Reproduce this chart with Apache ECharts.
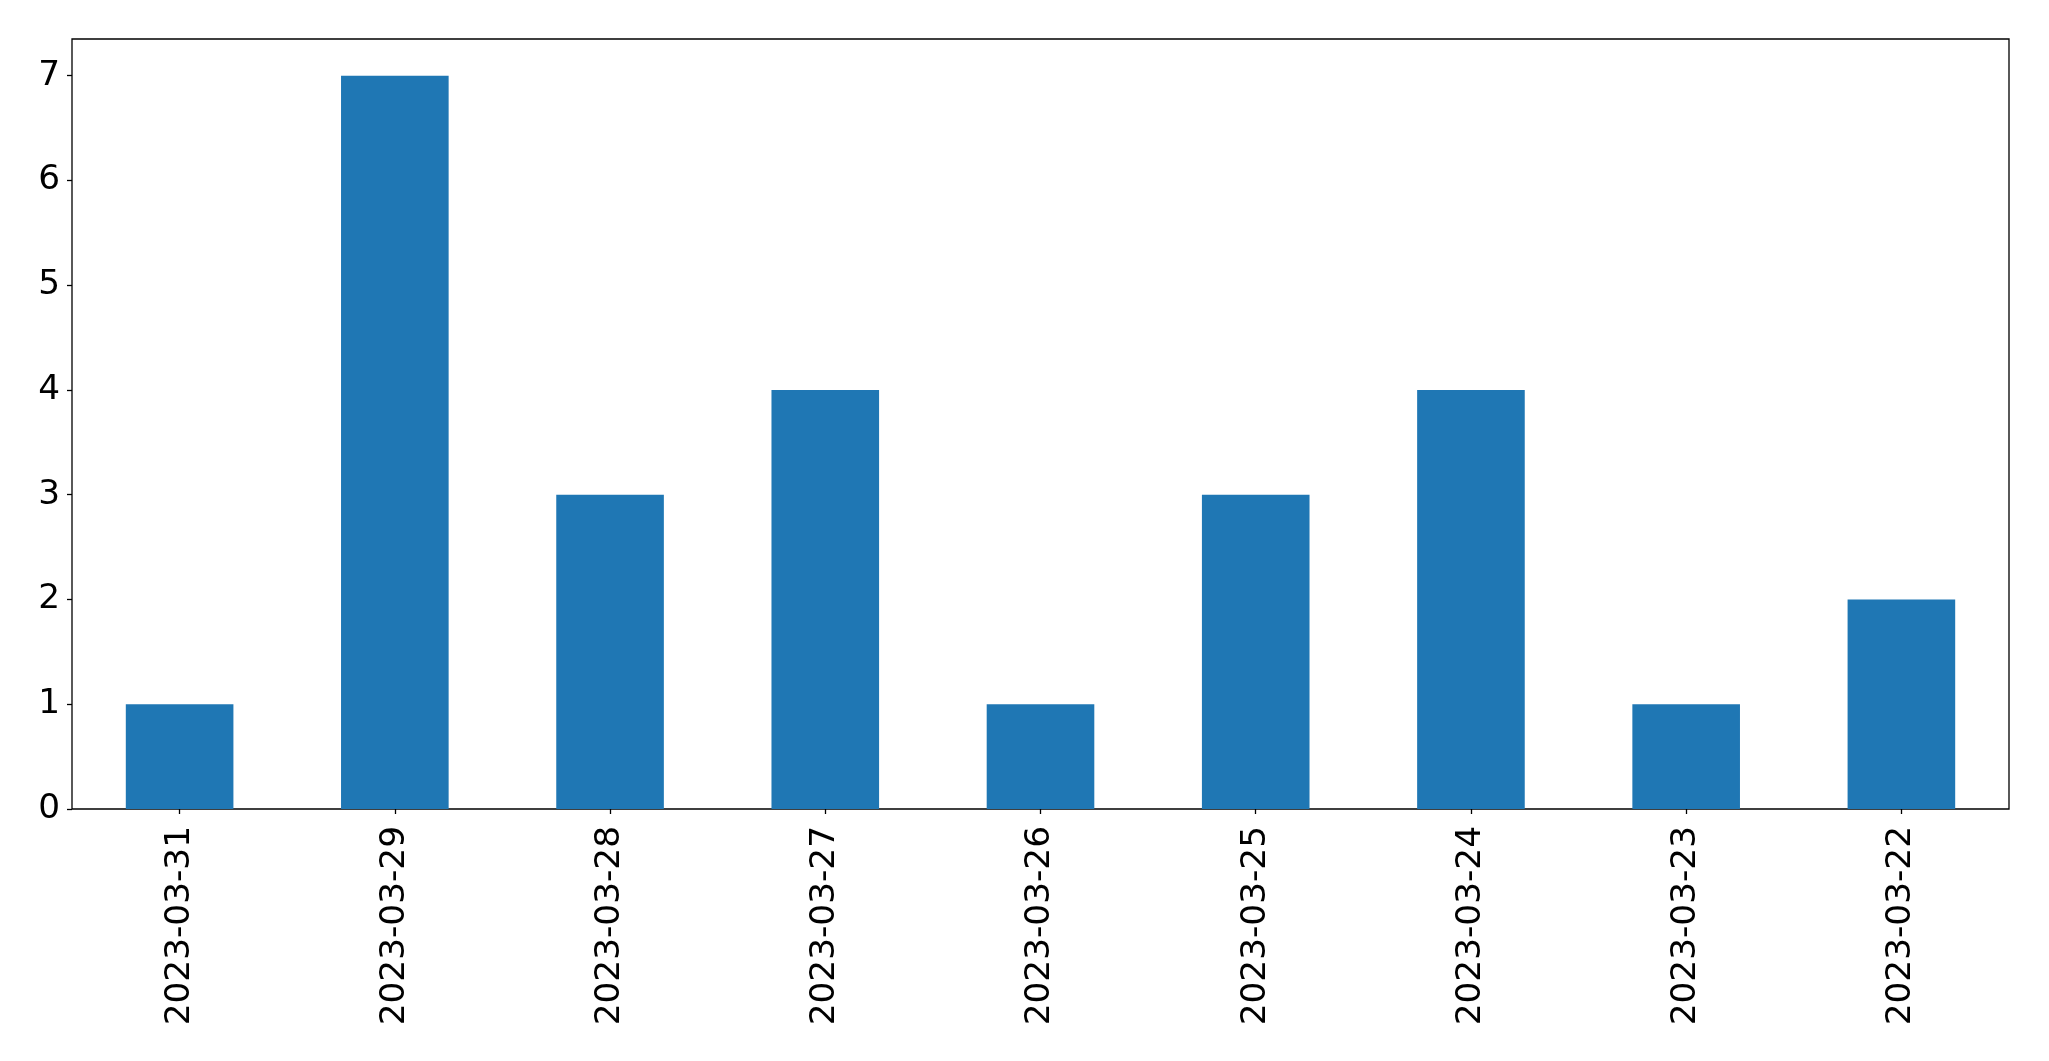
<!DOCTYPE html>
<html>
<head>
<meta charset="utf-8">
<script src="https://cdn.jsdelivr.net/npm/echarts@6/dist/echarts.min.js"></script>
<style>
html,body{margin:0;padding:0;background:#fff;}
#chart{width:2049px;height:1061px;}
</style>
</head>
<body>
<div id="chart"></div>
<script>
const categories = ['2023-03-31','2023-03-29','2023-03-28','2023-03-27','2023-03-26','2023-03-25','2023-03-24','2023-03-23','2023-03-22'];
const values = [1,7,3,4,1,3,4,1,2];
const yTicks = [0,1,2,3,4,5,6,7];

const chart = echarts.init(document.getElementById('chart'), null, {renderer:'canvas'});
const font = 'DejaVu Sans';
chart.setOption({
  animation: false,
  backgroundColor: '#ffffff',
  grid: {left: 72, right: 40, top: 39, bottom: 252, show: true, borderColor: '#000', borderWidth: 1.3, backgroundColor: 'transparent'},
  xAxis: {
    type: 'category',
    data: categories,
    boundaryGap: true,
    axisLine: {show: false},
    axisTick: {show: true, alignWithLabel: true, length: 5, inside: false, lineStyle: {color: '#000', width: 1.3}},
    axisLabel: {rotate: 90, fontSize: 34.3, fontFamily: font, color: '#000', margin: 17, interval: 0},
    splitLine: {show: false}
  },
  yAxis: {
    type: 'value',
    min: 0,
    max: 7.35,
    interval: 1,
    axisLine: {show: false},
    axisTick: {show: true, length: 5, inside: false, lineStyle: {color: '#000', width: 1.3}, customValues: yTicks},
    axisLabel: {fontSize: 34.3, fontFamily: font, color: '#000', margin: 12, customValues: yTicks},
    splitLine: {show: false}
  },
  series: [{
    type: 'bar',
    data: values,
    barWidth: '50%',
    itemStyle: {color: '#1f77b4'}
  }]
});
</script>
</body>
</html>
